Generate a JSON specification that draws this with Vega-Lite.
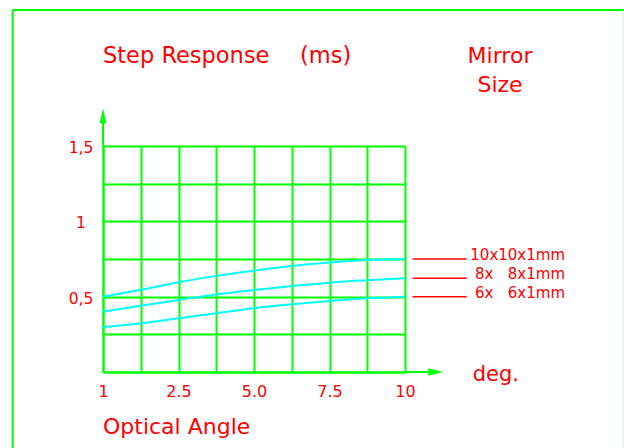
{
  "$schema": "https://vega.github.io/schema/vega-lite/v6.json",
  "width": 302,
  "height": 226,
  "autosize": {"type": "none"},
  "padding": {"left": 103, "top": 146, "right": 219, "bottom": 76},
  "background": "white",
  "config": {"view": {"stroke": null}, "font": "DejaVu Sans"},
  "datasets": {
    "curves": [
      {"size": "10x10x1mm", "angle": 0, "response": 0.5},
      {"size": "10x10x1mm", "angle": 1.25, "response": 0.546},
      {"size": "10x10x1mm", "angle": 2.5, "response": 0.595},
      {"size": "10x10x1mm", "angle": 3.75, "response": 0.638},
      {"size": "10x10x1mm", "angle": 5, "response": 0.672},
      {"size": "10x10x1mm", "angle": 6.25, "response": 0.703},
      {"size": "10x10x1mm", "angle": 7.5, "response": 0.727},
      {"size": "10x10x1mm", "angle": 8.75, "response": 0.743},
      {"size": "10x10x1mm", "angle": 10, "response": 0.75},
      {"size": "8x\u00a0\u00a0\u00a08x1mm", "angle": 0, "response": 0.4},
      {"size": "8x\u00a0\u00a0\u00a08x1mm", "angle": 1.25, "response": 0.44},
      {"size": "8x\u00a0\u00a0\u00a08x1mm", "angle": 2.5, "response": 0.478},
      {"size": "8x\u00a0\u00a0\u00a08x1mm", "angle": 3.75, "response": 0.515},
      {"size": "8x\u00a0\u00a0\u00a08x1mm", "angle": 5, "response": 0.544},
      {"size": "8x\u00a0\u00a0\u00a08x1mm", "angle": 6.25, "response": 0.571},
      {"size": "8x\u00a0\u00a0\u00a08x1mm", "angle": 7.5, "response": 0.593},
      {"size": "8x\u00a0\u00a0\u00a08x1mm", "angle": 8.75, "response": 0.609},
      {"size": "8x\u00a0\u00a0\u00a08x1mm", "angle": 10, "response": 0.623},
      {"size": "6x\u00a0\u00a0\u00a06x1mm", "angle": 0, "response": 0.297},
      {"size": "6x\u00a0\u00a0\u00a06x1mm", "angle": 1.25, "response": 0.323},
      {"size": "6x\u00a0\u00a0\u00a06x1mm", "angle": 2.5, "response": 0.356},
      {"size": "6x\u00a0\u00a0\u00a06x1mm", "angle": 3.75, "response": 0.39},
      {"size": "6x\u00a0\u00a0\u00a06x1mm", "angle": 5, "response": 0.423},
      {"size": "6x\u00a0\u00a0\u00a06x1mm", "angle": 6.25, "response": 0.449},
      {"size": "6x\u00a0\u00a0\u00a06x1mm", "angle": 7.5, "response": 0.471},
      {"size": "6x\u00a0\u00a0\u00a06x1mm", "angle": 8.75, "response": 0.489},
      {"size": "6x\u00a0\u00a0\u00a06x1mm", "angle": 10, "response": 0.5}
    ]
  },
  "encoding": {
    "x": {
      "type": "quantitative",
      "scale": {"domain": [0, 10], "nice": false, "zero": false},
      "axis": {
        "values": [0, 1.25, 2.5, 3.75, 5, 6.25, 7.5, 8.75, 10],
        "labelExpr": "datum.value==0?'1':datum.value==2.5?'2.5':datum.value==5?'5.0':datum.value==7.5?'7.5':datum.value==10?'10':''",
        "grid": true, "gridColor": "#00ff00", "gridWidth": 2, "gridOpacity": 1,
        "domainColor": "#00ff00", "domainWidth": 2, "ticks": false,
        "labelColor": "#ff0000", "labelFontSize": 16, "labelFont": "DejaVu Sans",
        "labelPadding": 11, "labelFlush": false, "labelOverlap": false, "title": null
      }
    },
    "y": {
      "type": "quantitative",
      "scale": {"domain": [0, 1.5], "nice": false, "zero": false},
      "axis": {
        "values": [0, 0.25, 0.5, 0.75, 1, 1.25, 1.5],
        "labelExpr": "datum.value==1.5?'1,5':datum.value==1?'1':datum.value==0.5?'0,5':''",
        "grid": true, "gridColor": "#00ff00", "gridWidth": 2, "gridOpacity": 1,
        "domainColor": "#00ff00", "domainWidth": 2, "ticks": false,
        "labelColor": "#ff0000", "labelFontSize": 15.5, "labelFont": "DejaVu Sans",
        "labelAlign": "center", "labelPadding": 22.5, "labelOffset": 1.5, "labelFlush": false, "labelOverlap": false, "title": null
      }
    }
  },
  "layer": [
    {
      "data": {"name": "curves"},
      "mark": {"type": "line", "color": "#00ffff", "strokeWidth": 2, "interpolate": "monotone"},
      "encoding": {
        "x": {"field": "angle", "type": "quantitative"},
        "y": {"field": "response", "type": "quantitative"},
        "detail": {"field": "size"}
      }
    },
    {
      "data": {"name": "curves"},
      "transform": [{"filter": "datum.angle == 10"}],
      "mark": {"type": "rule", "color": "#ff0000", "strokeWidth": 1.5},
      "encoding": {
        "x": {"datum": 10.255, "type": "quantitative"},
        "x2": {"datum": 12.043},
        "y": {"field": "response", "type": "quantitative"}
      }
    },
    {
      "data": {"name": "curves"},
      "transform": [{"filter": "datum.angle == 10"}],
      "mark": {"type": "text", "color": "#ff0000", "fontSize": 15, "font": "DejaVu Sans", "align": "right", "baseline": "alphabetic", "dy": 1},
      "encoding": {
        "x": {"datum": 15.298, "type": "quantitative"},
        "y": {"field": "response", "type": "quantitative"},
        "text": {"field": "size"}
      }
    },
    {
      "data": {"values": [{}]},
      "mark": {"type": "rule", "color": "#00ff00", "strokeWidth": 2},
      "encoding": {
        "x": {"datum": -2.99, "type": "quantitative"},
        "x2": {"datum": 17.3},
        "y": {"datum": 2.4026, "type": "quantitative"}
      }
    },
    {
      "data": {"values": [{}]},
      "mark": {"type": "rule", "color": "#00ff00", "strokeWidth": 2},
      "encoding": {
        "x": {"datum": -2.99, "type": "quantitative"},
        "y": {"datum": 2.4026, "type": "quantitative"},
        "y2": {"datum": -0.6}
      }
    },
    {
      "data": {"values": [{}]},
      "mark": {"type": "rule", "color": "#d6f7d6", "strokeWidth": 1},
      "encoding": {
        "x": {"datum": 17.228, "type": "quantitative"},
        "y": {"datum": 2.4026, "type": "quantitative"},
        "y2": {"datum": -0.6}
      }
    },
    {
      "data": {"values": [{}]},
      "mark": {"type": "rule", "color": "#00ff00", "strokeWidth": 2},
      "encoding": {
        "x": {"datum": 0, "type": "quantitative"},
        "y": {"datum": 1.5, "type": "quantitative"},
        "y2": {"datum": 1.66}
      }
    },
    {
      "data": {"values": [{}]},
      "mark": {"type": "rule", "color": "#00ff00", "strokeWidth": 2},
      "encoding": {
        "x": {"datum": 10, "type": "quantitative"},
        "x2": {"datum": 10.8},
        "y": {"datum": 0, "type": "quantitative"}
      }
    },
    {
      "data": {"values": [{}]},
      "mark": {"type": "point", "shape": "M0,-1L0.45,1L-0.45,1Z", "size": 225, "filled": true, "opacity": 1, "color": "#00ff00", "strokeWidth": 0},
      "encoding": {
        "x": {"datum": 0, "type": "quantitative"},
        "y": {"datum": 1.7, "type": "quantitative"}
      }
    },
    {
      "data": {"values": [{}]},
      "mark": {"type": "point", "shape": "M1,0L-1,0.5L-1,-0.5Z", "size": 225, "filled": true, "opacity": 1, "color": "#00ff00", "strokeWidth": 0},
      "encoding": {
        "x": {"datum": 11.02, "type": "quantitative"},
        "y": {"datum": 0, "type": "quantitative"}
      }
    },
    {
      "data": {"values": [{}]},
      "mark": {"type": "text", "text": "Step Response", "color": "#ff0000", "fontSize": 22.5, "font": "DejaVu Sans", "align": "left", "baseline": "alphabetic"},
      "encoding": {
        "x": {"datum": 0, "type": "quantitative"},
        "y": {"datum": 2.049, "type": "quantitative"}
      }
    },
    {
      "data": {"values": [{}]},
      "mark": {"type": "text", "text": "(ms)", "color": "#ff0000", "fontSize": 22.5, "font": "DejaVu Sans", "align": "left", "baseline": "alphabetic"},
      "encoding": {
        "x": {"datum": 6.523, "type": "quantitative"},
        "y": {"datum": 2.049, "type": "quantitative"}
      }
    },
    {
      "data": {"values": [{}]},
      "mark": {"type": "text", "text": ["Mirror", "Size"], "lineHeight": 29, "color": "#ff0000", "fontSize": 22, "font": "DejaVu Sans", "align": "center", "baseline": "alphabetic"},
      "encoding": {
        "x": {"datum": 13.146, "type": "quantitative"},
        "y": {"datum": 2.049, "type": "quantitative"}
      }
    },
    {
      "data": {"values": [{}]},
      "mark": {"type": "text", "text": "deg.", "color": "#ff0000", "fontSize": 21, "font": "DejaVu Sans", "align": "left", "baseline": "alphabetic"},
      "encoding": {
        "x": {"datum": 12.242, "type": "quantitative"},
        "y": {"datum": -0.058, "type": "quantitative"}
      }
    },
    {
      "data": {"values": [{}]},
      "mark": {"type": "text", "text": "Optical Angle", "color": "#ff0000", "fontSize": 22, "font": "DejaVu Sans", "align": "left", "baseline": "alphabetic"},
      "encoding": {
        "x": {"datum": 0, "type": "quantitative"},
        "y": {"datum": -0.4115, "type": "quantitative"}
      }
    }
  ]
}
